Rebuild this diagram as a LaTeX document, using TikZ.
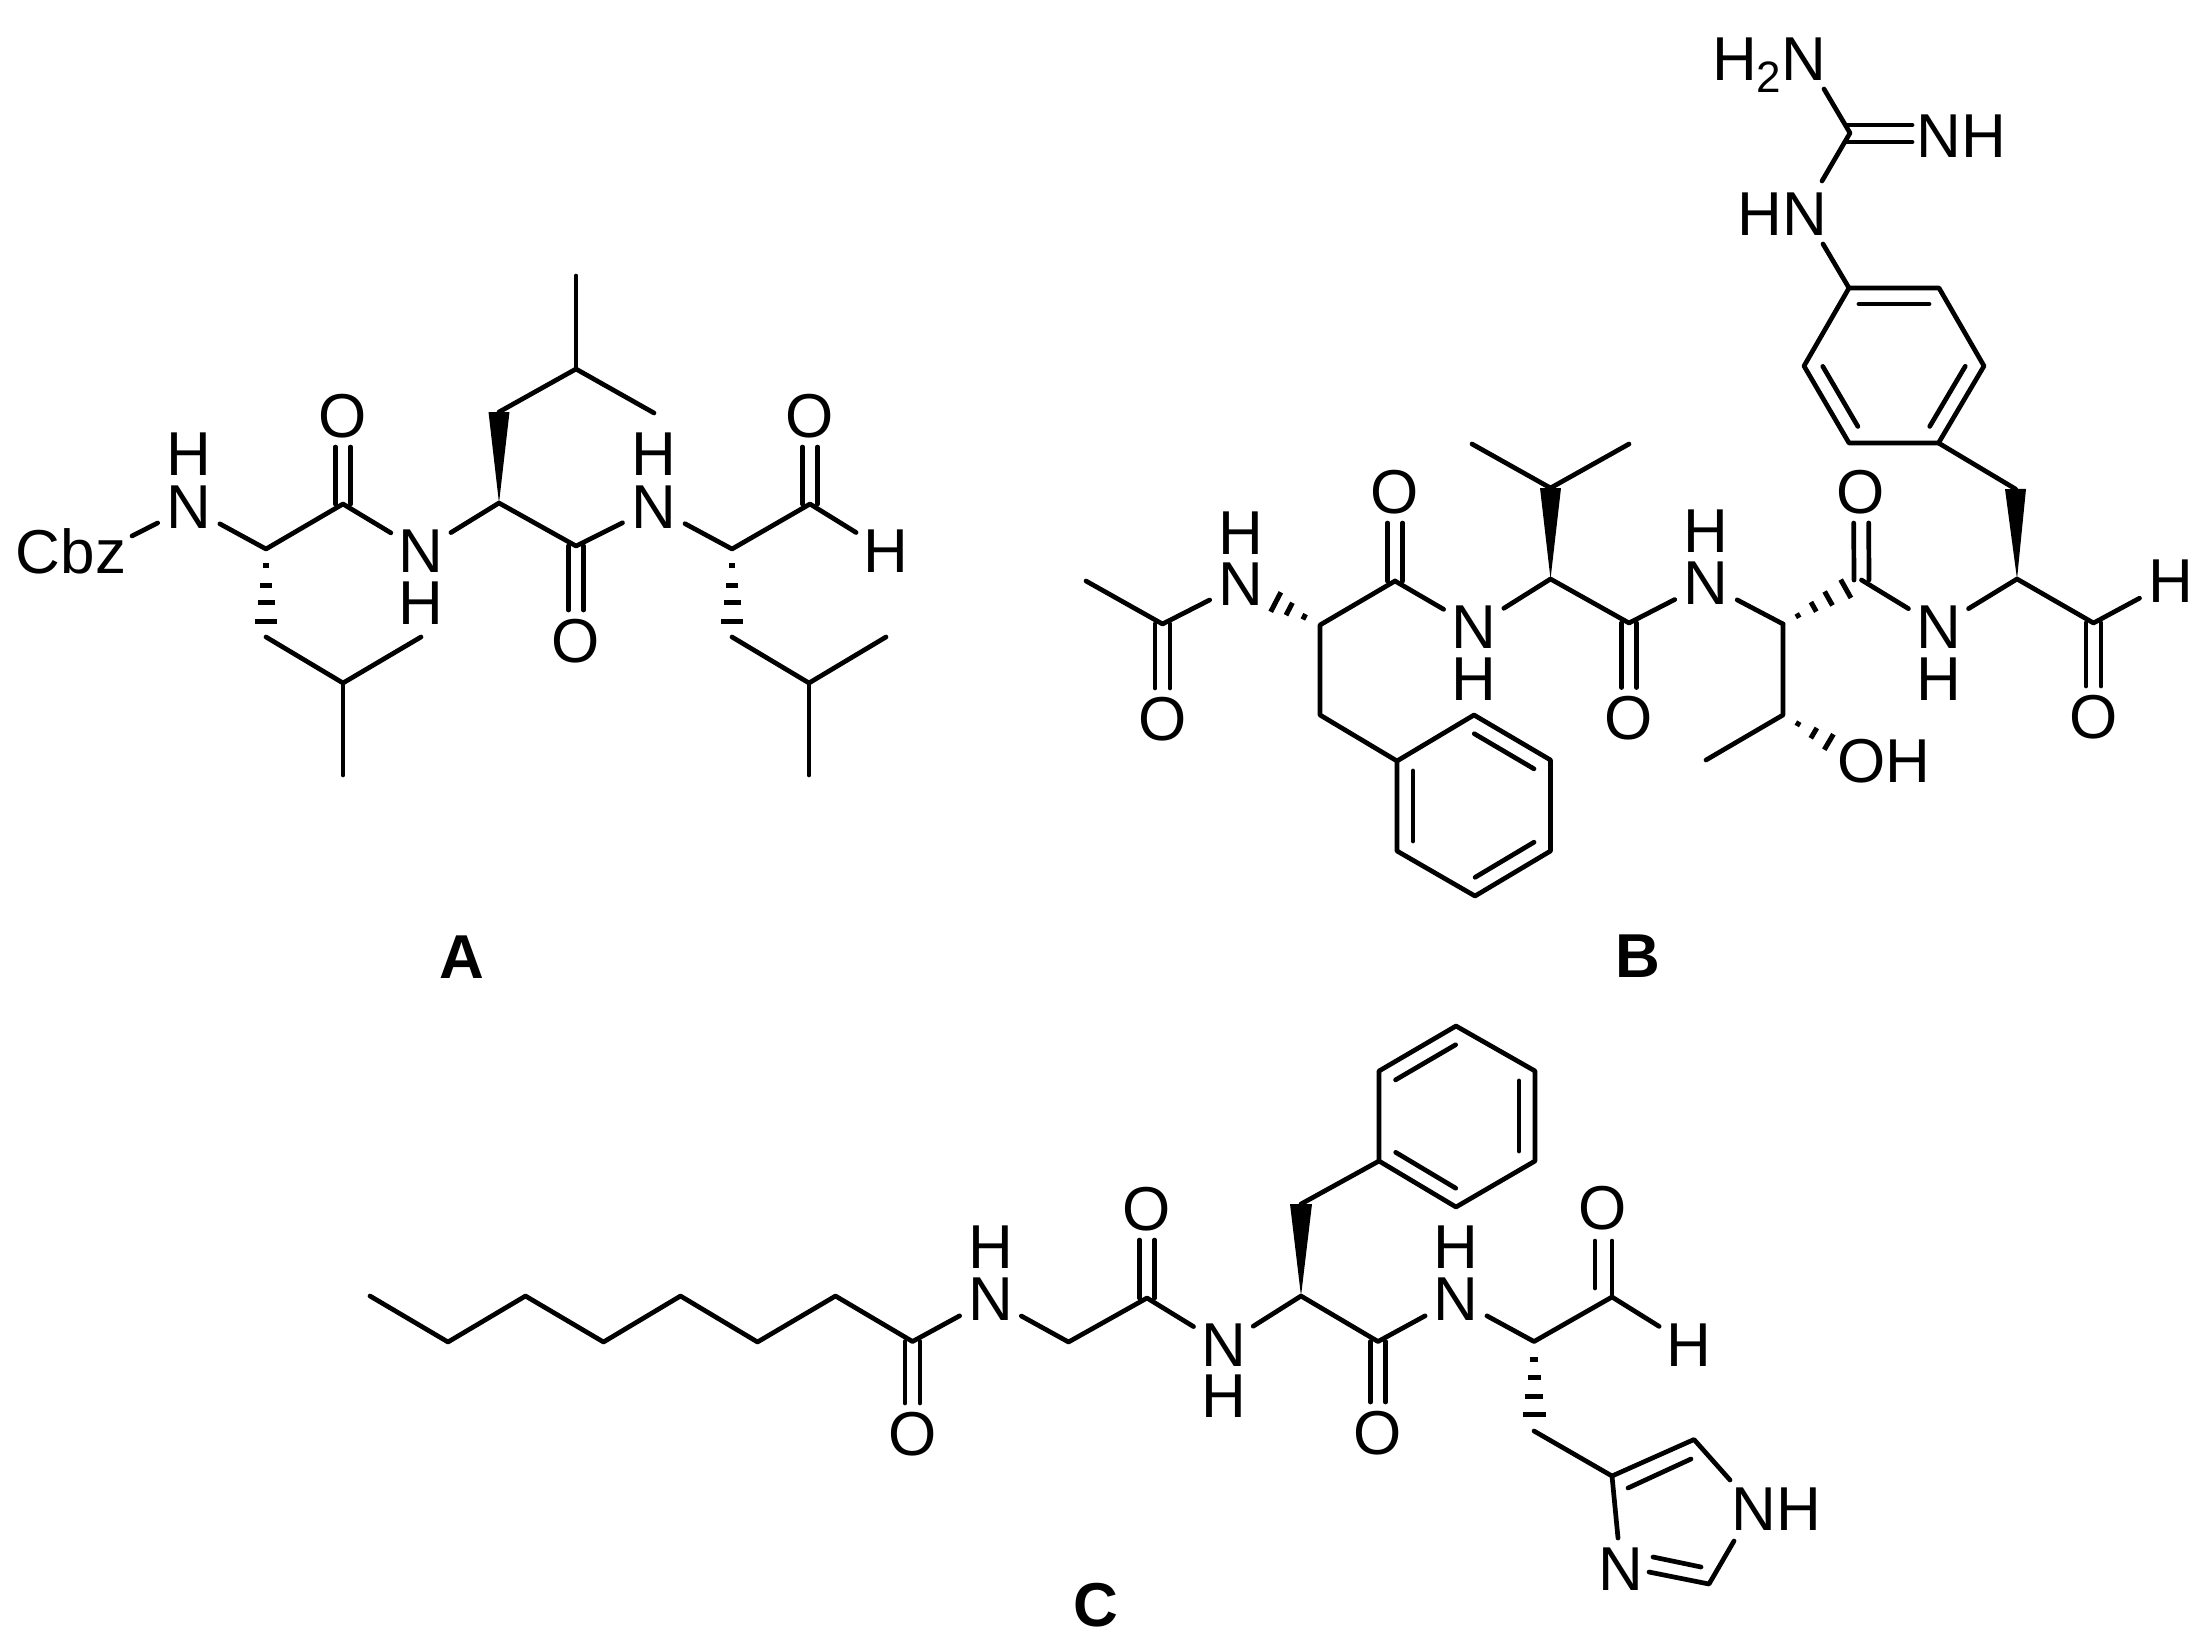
\documentclass[tikz,border=0pt]{standalone}
\usepackage{fontspec}
\setmainfont{Liberation Sans}
\usetikzlibrary{calc}
\newcommand{\atomfont}{\fontsize{62}{62}\selectfont}
\newcommand{\tagfont}{\fontsize{62}{62}\selectfont\bfseries}
\newcommand{\subtwo}{\raisebox{-12pt}{\fontsize{44}{44}\selectfont 2}}
% C=O style double bond, symmetric about the axis
\newcommand{\dblbond}[2]{%
  \draw[bond,shorten >=31pt] ($(#1)!7.5pt!90:(#2.center)$) -- ($(#2.center)!7.5pt!-90:(#1)$);
  \draw[bond,shorten >=31pt] ($(#1)!7.5pt!-90:(#2.center)$) -- ($(#2.center)!7.5pt!90:(#1)$);}
% inner line of an aromatic ring (a->b runs clockwise on the page)
\newcommand{\innerbond}[2]{%
  \draw[bond] ($(#1)!.11!(#2)!16pt!-90:(#2)$) -- ($(#2)!.11!(#1)!16pt!90:(#1)$);}
\newcommand{\wedgebond}[3]{%
  \fill ($(#2)!#3pt!90:(#1)$) -- ($(#2)!#3pt!-90:(#1)$) -- (#1) -- cycle;}
\newcommand{\hashbond}[3]{%
  \foreach \f/\w in {#3}{%
    \draw[hashline] ($(#1)!\f!(#2.center)!\w pt!90:(#2.center)$) -- ($(#1)!\f!(#2.center)!\w pt!-90:(#2.center)$);}}
\tikzset{
  bond/.style={line width=4.7pt,line cap=round,line join=round},
  hashline/.style={line width=5pt,line cap=butt},
  atom/.style={circle,inner sep=0pt,minimum size=70pt,font=\atomfont},
  lbl/.style={inner sep=0pt,font=\atomfont},
  tag/.style={inner sep=0pt,font=\tagfont}
}
\begin{document}
\begin{tikzpicture}[x=1pt,y=-1pt]
\useasboundingbox (0,0) rectangle (2208,1643);
% ===== A =====
\node[lbl] (aCbz) at (71,551) {Cbz};
\coordinate (aCbzE) at (132,536);
\node[atom] (aN1) at (189,507) {N};
\node[lbl] (aH1) at (189,454) {H};
\coordinate (aC1) at (266,549);
\coordinate (aC2) at (343,504);
\node[atom] (aO1) at (343,416) {O};
\node[atom] (aN2) at (421,551) {N};
\node[lbl] (aH2) at (421,603) {H};
\coordinate (aC3) at (499,503);
\coordinate (aC4) at (576,546);
\node[atom] (aO2) at (576,641) {O};
\node[atom] (aN3) at (654,507) {N};
\node[lbl] (aH3) at (654,454) {H};
\coordinate (aC5) at (732,549);
\coordinate (aC6) at (810,504);
\node[atom] (aO3) at (810,416) {O};
\node[atom] (aH4) at (886,551) {H};
\coordinate (aL1) at (266,637);
\coordinate (aL2) at (343,683);
\coordinate (aL3) at (421,637);
\coordinate (aL4) at (343,775);
\coordinate (aM1) at (499,412);
\coordinate (aM2) at (576,369);
\coordinate (aM3) at (654,413);
\coordinate (aM4) at (576,276);
\coordinate (aR1) at (732,637);
\coordinate (aR2) at (809,683);
\coordinate (aR3) at (886,637);
\coordinate (aR4) at (809,775);
\node[tag] (aTag) at (462,957) {A};
\draw[bond] (aCbzE) -- (aN1);
\draw[bond] (aN1) -- (aC1) -- (aC2) -- (aN2) -- (aC3) -- (aC4) -- (aN3) -- (aC5) -- (aC6) -- (aH4);
\dblbond{aC2}{aO1}
\dblbond{aC4}{aO2}
\dblbond{aC6}{aO3}
\hashbond{aC1}{aL1}{.19/3,.41/6,.61/8.5,.82/11}
\draw[bond] (aL1) -- (aL2) -- (aL3);
\draw[bond] (aL2) -- (aL4);
\wedgebond{aC3}{aM1}{10.5}
\draw[bond] (aM1) -- (aM2) -- (aM3);
\draw[bond] (aM2) -- (aM4);
\hashbond{aC5}{aR1}{.19/3,.41/6,.61/8.5,.82/11}
\draw[bond] (aR1) -- (aR2) -- (aR3);
\draw[bond] (aR2) -- (aR4);
% ===== B =====
\coordinate (bMe) at (1086,581);
\coordinate (bC1) at (1162.5,624);
\node[atom] (bO1) at (1162.5,719) {O};
\node[atom] (bN1) at (1241,584) {N};
\node[lbl] (bH1) at (1241,533) {H};
\coordinate (bC2) at (1320,625);
\coordinate (bC3) at (1395,581);
\node[atom] (bO2) at (1395,492) {O};
\coordinate (bB1) at (1320,715);
\coordinate (bP1) at (1397,761);
\coordinate (bP2) at (1474,715);
\coordinate (bP3) at (1550.5,760);
\coordinate (bP4) at (1550.5,851);
\coordinate (bP5) at (1475,896);
\coordinate (bP6) at (1397,851);
\node[atom] (bN2) at (1474,627) {N};
\node[lbl] (bH2) at (1474,679) {H};
\coordinate (bC4) at (1550.5,579);
\coordinate (bV1) at (1550.5,488);
\coordinate (bV2) at (1472,444);
\coordinate (bV3) at (1629,444);
\coordinate (bC5) at (1629,623);
\node[atom] (bO3) at (1629,718.5) {O};
\node[atom] (bN3) at (1706,583.5) {N};
\node[lbl] (bH3) at (1706,531) {H};
\coordinate (bC6) at (1783,624);
\coordinate (bC7) at (1861.5,580);
\node[atom] (bO4) at (1861,492) {O};
\coordinate (bT1) at (1783,715);
\coordinate (bT2) at (1706,760);
\coordinate (bT3) at (1862,761.5);
\node[lbl] (bOH) at (1884,761.5) {OH};
\node[atom] (bN4) at (1938.5,627) {N};
\node[lbl] (bH4) at (1938.5,679) {H};
\coordinate (bC8) at (2017,579);
\coordinate (bY1) at (2015.5,489);
\coordinate (bC9) at (2093.5,623);
\node[atom] (bO5) at (2093.5,717) {O};
\node[atom] (bH5) at (2170.5,581.5) {H};
\coordinate (bQ1) at (1938.5,443);
\coordinate (bQ2) at (1849,443);
\coordinate (bQ3) at (1804,366);
\coordinate (bQ4) at (1849,288);
\coordinate (bQ5) at (1939,288);
\coordinate (bQ6) at (1984,366);
\node[lbl] (bHN) at (1782,214) {HN};
\coordinate (bHNa) at (1823,244);
\coordinate (bHNb) at (1822,181);
\coordinate (bG) at (1850,133);
\node[lbl] (bNH) at (1961,136) {NH};
\coordinate (bNHa) at (1912,125);
\coordinate (bNHb) at (1912,142);
\coordinate (bGa) at (1847,125);
\coordinate (bGb) at (1847,142);
\node[lbl,anchor=base] (bH2N) at (1769,81) {H\subtwo N};
\coordinate (bH2Na) at (1824,89);
\node[tag] (bTag) at (1638,956) {B};
\draw[bond] (bMe) -- (bC1) -- (bN1);
\dblbond{bC1}{bO1}
\hashbond{bC2}{bN1}{.20/3,.39/7,.56/11}
\draw[bond] (bC3) -- (bC2) -- (bB1) -- (bP1);
\draw[bond] (bC3) -- (bN2) -- (bC4) -- (bC5) -- (bN3) -- (bC6);
\dblbond{bC3}{bO2}
\draw[bond] (bP1) -- (bP2) -- (bP3) -- (bP4) -- (bP5) -- (bP6) -- cycle;
\innerbond{bP2}{bP3}
\innerbond{bP4}{bP5}
\innerbond{bP6}{bP1}
\wedgebond{bC4}{bV1}{10.5}
\draw[bond] (bV2) -- (bV1) -- (bV3);
\dblbond{bC5}{bO3}
\hashbond{bC6}{bC7}{.19/2.5,.39/5.5,.58/8,.80/10.5}
\draw[bond] (bC6) -- (bT1) -- (bT2);
\hashbond{bT1}{bT3}{.19/2.5,.39/6,.58/9}
\dblbond{bC7}{bO4}
\draw[bond] (bC7) -- (bN4) -- (bC8) -- (bC9) -- (bH5);
\dblbond{bC9}{bO5}
\wedgebond{bC8}{bY1}{10.5}
\draw[bond] (bY1) -- (bQ1);
\draw[bond] (bQ1) -- (bQ2) -- (bQ3) -- (bQ4) -- (bQ5) -- (bQ6) -- cycle;
\innerbond{bQ4}{bQ5}
\innerbond{bQ6}{bQ1}
\innerbond{bQ2}{bQ3}
\draw[bond] (bQ4) -- (bHNa);
\draw[bond] (bHNb) -- (bG) -- (bH2Na);
\draw[bond] (bGa) -- (bNHa);
\draw[bond] (bGb) -- (bNHb);
% ===== C =====
\coordinate (cA1) at (370,1296);
\coordinate (cA2) at (448,1342);
\coordinate (cA3) at (525.5,1296);
\coordinate (cA4) at (603.5,1342);
\coordinate (cA5) at (680.5,1296);
\coordinate (cA6) at (757.5,1342);
\coordinate (cA7) at (835.5,1296);
\coordinate (cC1) at (912.5,1341.5);
\node[atom] (cO1) at (912.5,1434) {O};
\node[atom] (cN1) at (990.5,1299) {N};
\node[lbl] (cH1) at (990.5,1247) {H};
\coordinate (cC2) at (1068.5,1342);
\coordinate (cC3) at (1147,1298);
\node[atom] (cO2) at (1147,1209) {O};
\node[atom] (cN2) at (1223.5,1345) {N};
\node[lbl] (cH2) at (1223.5,1396) {H};
\coordinate (cC4) at (1301,1296);
\coordinate (cB1) at (1301,1204);
\coordinate (cP1) at (1379,1161);
\coordinate (cP2) at (1379,1071);
\coordinate (cP3) at (1456,1026);
\coordinate (cP4) at (1535,1071);
\coordinate (cP5) at (1535,1161);
\coordinate (cP6) at (1456,1207);
\coordinate (cC5) at (1378,1341.5);
\node[atom] (cO3) at (1378,1433) {O};
\node[atom] (cN3) at (1456,1299) {N};
\node[lbl] (cH3) at (1456,1247) {H};
\coordinate (cC6) at (1534,1341.5);
\coordinate (cC7) at (1612,1297);
\node[lbl] (cO4) at (1602.5,1208.5) {O};
\coordinate (cOa) at (1612,1241);
\coordinate (cOb) at (1595,1241);
\coordinate (cOc) at (1595,1288);
\node[atom] (cH4) at (1689,1345) {H};
\coordinate (cB2) at (1534,1431);
\coordinate (cI1) at (1612,1476);
\coordinate (cI2) at (1694,1439.5);
\coordinate (cIa) at (1628,1488);
\coordinate (cIb) at (1691,1459);
\coordinate (cNHa) at (1730,1480);
\coordinate (cNHb) at (1734,1541);
\node[lbl] (cNH) at (1776,1509) {NH};
\coordinate (cI3) at (1709,1584);
\node[atom] (cN4) at (1620.5,1569) {N};
\coordinate (cN4a) at (1649,1572);
\coordinate (cN4b) at (1653,1557);
\coordinate (cI3b) at (1701,1567);
\coordinate (cN4c) at (1618,1538);
\node[tag] (cTag) at (1096,1605) {C};
\draw[bond] (cA1) -- (cA2) -- (cA3) -- (cA4) -- (cA5) -- (cA6) -- (cA7) -- (cC1) -- (cN1) -- (cC2) -- (cC3) -- (cN2) -- (cC4) -- (cC5) -- (cN3) -- (cC6) -- (cC7) -- (cH4);
\dblbond{cC1}{cO1}
\dblbond{cC3}{cO2}
\dblbond{cC5}{cO3}
\draw[bond] (cC7) -- (cOa);
\draw[bond] (cOc) -- (cOb);
\wedgebond{cC4}{cB1}{11}
\draw[bond] (cB1) -- (cP1);
\draw[bond] (cP1) -- (cP2) -- (cP3) -- (cP4) -- (cP5) -- (cP6) -- cycle;
\innerbond{cP2}{cP3}
\innerbond{cP4}{cP5}
\innerbond{cP6}{cP1}
\hashbond{cC6}{cB2}{.20/4,.40/6.5,.61/9,.81/11.5}
\draw[bond] (cB2) -- (cI1) -- (cI2) -- (cNHa);
\draw[bond] (cIa) -- (cIb);
\draw[bond] (cI1) -- (cN4c);
\draw[bond] (cNHb) -- (cI3) -- (cN4a);
\draw[bond] (cI3b) -- (cN4b);
\end{tikzpicture}
\end{document}
